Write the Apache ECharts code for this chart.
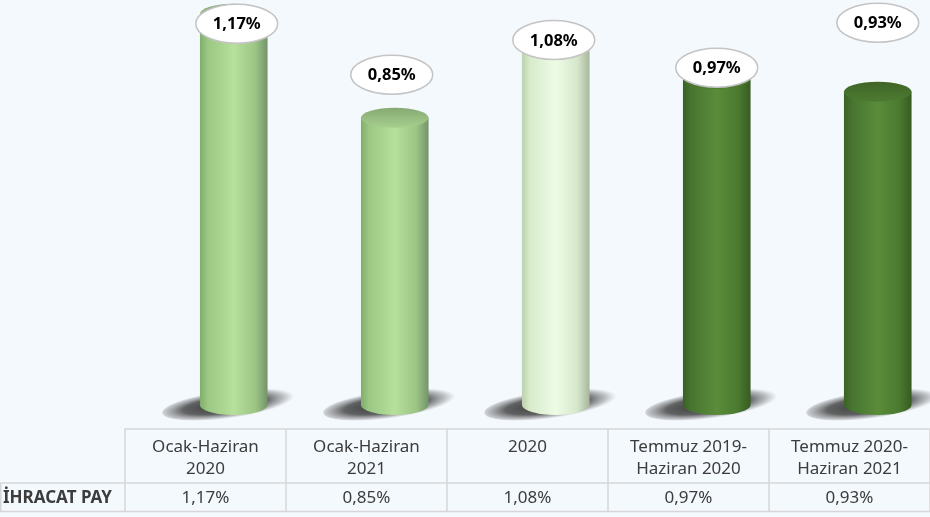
<!DOCTYPE html>
<html><head><meta charset="utf-8">
<script src="https://cdn.jsdelivr.net/npm/echarts@6/dist/echarts.min.js"></script>
<style>html,body{margin:0;padding:0;background:#f4f9fe}#c{width:930px;height:517px}</style>
</head><body><div id="c"></div>
<script>
// ---- data ----
const categories = ['Ocak-Haziran\n2020', 'Ocak-Haziran\n2021', '2020', 'Temmuz 2019-\nHaziran 2020', 'Temmuz 2020-\nHaziran 2021'];
const rowName = 'İHRACAT PAY';
const values = [1.17, 0.85, 1.08, 0.97, 0.93];

// ---- styles ----
const fmt = v => v.toFixed(2).replace('.', ',') + '%';
const light = { body: ['#82ad6d', '#9bc883', '#b6e09c', '#9cc585', '#74946a'], top: ['#86a972', '#a6cf8d'] };
const pale  = { body: ['#bcd1ad', '#d8ebcb', '#eefce6', '#d6e6cb', '#a7b79d'], top: ['#c5d6b8', '#e0efd6'] };
const dark  = { body: ['#3a6124', '#477530', '#5a8c3a', '#4a7a2f', '#375b22'], top: ['#3f6527', '#4d7b31'] };
const palettes = [light, light, pale, dark, dark];
const labelNudge = [[3, 10], [-3, -43], [-2, -3], [0, -11], [0, -69]];
const FONT = '"Noto Sans", "DejaVu Sans", sans-serif';
const GRID_C = '#d6d6d6';

function grad(stops, vertical) {
  const n = stops.length;
  return { type: 'linear', x: 0, y: 0, x2: vertical ? 0 : 1, y2: vertical ? 1 : 0,
    colorStops: stops.map((c, k) => ({ offset: n === 5 ? [0, 0.12, 0.5, 0.82, 1][k] : k / (n - 1), color: c })) };
}

const chart = echarts.init(document.getElementById('c'), null, { renderer: 'canvas' });
chart.setOption({
  backgroundColor: '#f4f9fe',
  animation: false,
  grid: { left: 125, width: 809, top: 4, bottom: 123 },
  xAxis: {
    type: 'category', data: categories, offset: 35,
    axisLine: { show: true, onZero: false, lineStyle: { color: GRID_C, width: 1.5 } },
    axisTick: { show: true, inside: false, length: 83, lineStyle: { color: GRID_C, width: 1.5 } },
    axisLabel: {
      interval: 0, margin: 7,
      formatter: (val, idx) => {
        const lines = String(val).split('\n');
        while (lines.length < 2) lines.push(' ');
        return `{h|${lines[0]}}\n{h|${lines[1]}}\n{v|${fmt(values[idx])}}`;
      },
      rich: {
        h: { fontSize: 17, lineHeight: 22, fontFamily: FONT, color: '#3c3c3c' },
        v: { fontSize: 17, lineHeight: 36, fontFamily: FONT, color: '#3c3c3c' }
      }
    }
  },
  yAxis: { type: 'value', min: 0, max: 1.2, show: false },
  graphic: [
    { type: 'line', shape: { x1: 0, y1: 483, x2: 930, y2: 483 }, style: { stroke: GRID_C, lineWidth: 1.5 } },
    { type: 'line', shape: { x1: 0, y1: 511.5, x2: 930, y2: 511.5 }, style: { stroke: GRID_C, lineWidth: 1.5 } },
    { type: 'line', shape: { x1: 0.75, y1: 483, x2: 0.75, y2: 511.5 }, style: { stroke: GRID_C, lineWidth: 1.5 } },
    { type: 'text', x: 3, y: 498, style: { text: rowName, fontSize: 17, fontWeight: 'bold', fontFamily: FONT, fill: '#3c3c3c', align: 'left', verticalAlign: 'middle' } }
  ],
  series: [{
    type: 'custom',
    clip: false,
    data: values.map((v, i) => [i, v]),
    encode: { x: 0, y: 1 },
    renderItem: (params, api) => {
      const i = params.dataIndex;
      const v = api.value(1);
      const zero = api.coord([api.value(0), 0]);
      const top = api.coord([api.value(0), v]);
      const band = api.size([1, 0])[0];
      const cx = zero[0] + band * 0.1755;
      const rx = band * 0.21;
      const ry = 10;
      const by = zero[1] + 11;
      const ty = top[1];
      const pal = palettes[i];
      const body = `M${cx - rx} ${ty} L${cx - rx} ${by} A${rx} ${ry} 0 0 0 ${cx + rx} ${by} L${cx + rx} ${ty} Z`;
      const cap = `M${cx - rx} ${ty} A${rx} ${ry} 0 0 1 ${cx + rx} ${ty} A${rx} ${ry} 0 0 1 ${cx - rx} ${ty} Z`;
      const lx = cx + labelNudge[i][0], ly = ty + labelNudge[i][1];
      const lrx = 41, lry = 19.5;
      const lab = `M${lx - lrx} ${ly} A${lrx} ${lry} 0 0 1 ${lx + lrx} ${ly} A${lrx} ${lry} 0 0 1 ${lx - lrx} ${ly} Z`;
      return {
        type: 'group',
        children: [
          { type: 'circle', shape: { cx: 0, cy: 0, r: 70 }, x: cx - 2, y: by - 1, scaleY: 0.2, rotation: 0.13,
            style: { fill: { type: 'radial', x: 0.45, y: 0.5, r: 0.5, colorStops: [
              { offset: 0, color: 'rgba(40,40,40,0.95)' }, { offset: 0.6, color: 'rgba(60,60,60,0.8)' },
              { offset: 0.85, color: 'rgba(90,90,90,0.35)' }, { offset: 1, color: 'rgba(120,120,120,0)' } ] } } },
          { type: 'path', shape: { pathData: body }, style: { fill: grad(pal.body, false) } },
          { type: 'path', shape: { pathData: cap }, style: { fill: grad(pal.top, true) } },
          { type: 'path', shape: { pathData: lab }, style: { fill: '#ffffff', stroke: '#c4c4c4', lineWidth: 1.5 } },
          { type: 'text', x: lx, y: ly + 1, style: { text: fmt(v), fontSize: 16.5, fontWeight: 'bold', fontFamily: FONT, fill: '#000000', align: 'center', verticalAlign: 'middle' } }
        ]
      };
    }
  }]
});
</script></body></html>
